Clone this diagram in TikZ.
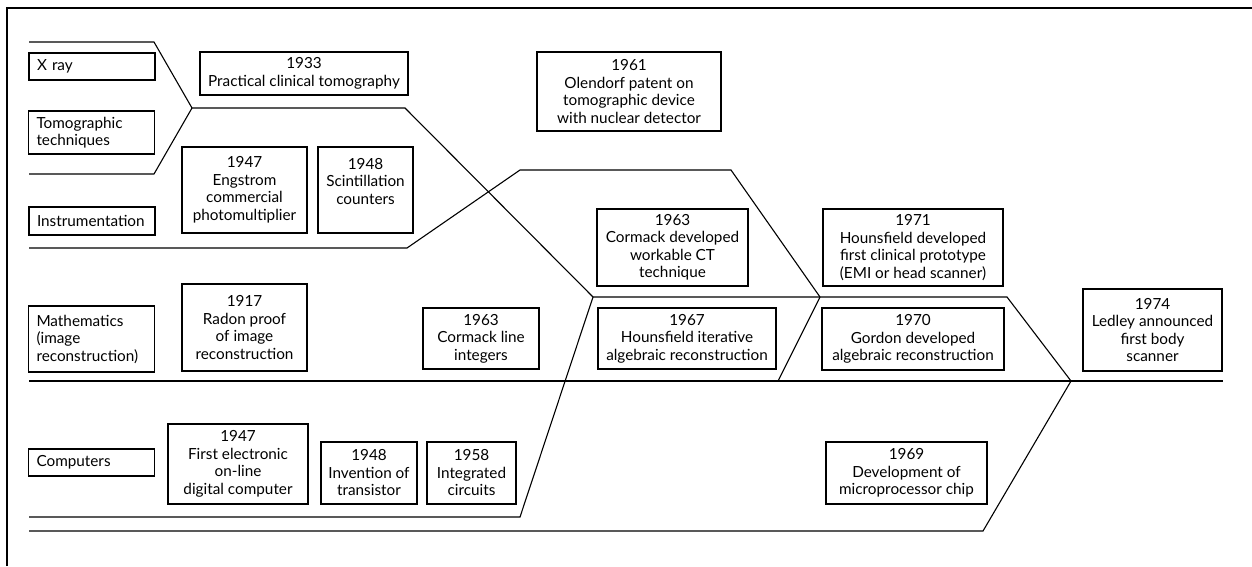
\documentclass[tikz,border=0pt]{standalone}
\usepackage{fontspec}
\setmainfont{Lato}
\tikzset{
  topic/.style={draw, align=left, inner xsep=8pt, inner ysep=2pt, text width=110pt, font=\fontsize{15.3}{17.5}\selectfont},
  evt/.style={draw, align=center, inner xsep=1pt, inner ysep=2pt, font=\fontsize{15.3}{17.5}\selectfont},
}

\begin{document}
\begin{tikzpicture}[x=1pt,y=-1pt,line width=1.1pt]
\useasboundingbox (0,0) rectangle (1252,566);
\draw (7,566) -- (7,8) -- (1252,8);
% subjects
\node[topic,minimum height=27pt] (xray) at (92,66.5) {X ray};
\node[topic,minimum height=43pt] (tomo) at (91.5,132.5) {Tomographic\\techniques};
\node[topic,minimum height=28pt] (instr) at (92,221) {Instrumentation};
\node[topic,minimum height=66pt] (math) at (91.5,339) {Mathematics\\(image\\reconstruction)};
\node[topic,minimum height=27pt] (comp) at (91.5,462.5) {Computers};
% events
\node[evt,minimum width=208pt,minimum height=43pt] (e1933) at (304,73.5) {1933\\Practical clinical tomography};
\node[evt,minimum width=184pt,minimum height=79pt] (e1961) at (629,91.5) {1961\\Olendorf patent on\\tomographic device\\with nuclear detector};
\node[evt,minimum width=125pt,minimum height=86pt] (e1947a) at (244.5,190) {1947\\Engstrom\\commercial\\photomultiplier};
\node[evt,minimum width=95pt,minimum height=86pt] (e1948a) at (365.5,190) {1948\\Scintillation\\counters\\\mbox{}};
\node[evt,minimum width=151pt,minimum height=77pt] (e1963b) at (672.5,247.5) {1963\\Cormack developed\\workable CT\\technique};
\node[evt,minimum width=180pt,minimum height=77pt] (e1971) at (913,247.5) {1971\\Hounsfield developed\\first clinical prototype\\(EMI or head scanner)};
\node[evt,minimum width=125pt,minimum height=87pt] (e1917) at (244.5,327.5) {1917\\Radon proof\\of image\\reconstruction};
\node[evt,minimum width=116pt,minimum height=61pt] (e1963a) at (481,338.5) {1963\\Cormack line\\integers};
\node[evt,minimum width=178pt,minimum height=61pt] (e1967) at (687,338.5) {1967\\Hounsfield iterative\\algebraic reconstruction};
\node[evt,minimum width=182pt,minimum height=62pt] (e1970) at (913,339) {1970\\Gordon developed\\algebraic reconstruction};
\node[evt,minimum width=139pt,minimum height=82pt] (e1974) at (1152.5,330) {1974\\Ledley announced\\first body\\scanner};
\node[evt,minimum width=140pt,minimum height=80pt] (e1947b) at (238,464) {1947\\First electronic\\on-line\\digital computer};
\node[evt,minimum width=96pt,minimum height=62pt] (e1948b) at (369,473) {1948\\Invention of\\transistor};
\node[evt,minimum width=89pt,minimum height=62pt] (e1958) at (471.5,473) {1958\\Integrated\\circuits};
\node[evt,minimum width=161pt,minimum height=62pt] (e1969) at (906.5,473) {1969\\Development of\\microprocessor chip};
% bands
\coordinate (m1) at (192,108);
\coordinate (m2) at (593,297);
\coordinate (m3) at (820,297);
\coordinate (m4) at (1071,381);
\draw (29,42) -- (154,42) -- (m1);
\draw (29,174) -- (154,174) -- (m1);
\draw (m1) -- (405,108) -- (m2);
\draw (29,248) -- (407,248) -- (520,170) -- (731,170) -- (m3);
\draw (29,517) -- (520,517) -- (m2);
\draw (m2) -- (1007,297) -- (m4);
\draw (m3) -- (778,381);
\draw (29,381) -- (1223,381);
\draw (29,531) -- (983,531) -- (m4);
\end{tikzpicture}
\end{document}
